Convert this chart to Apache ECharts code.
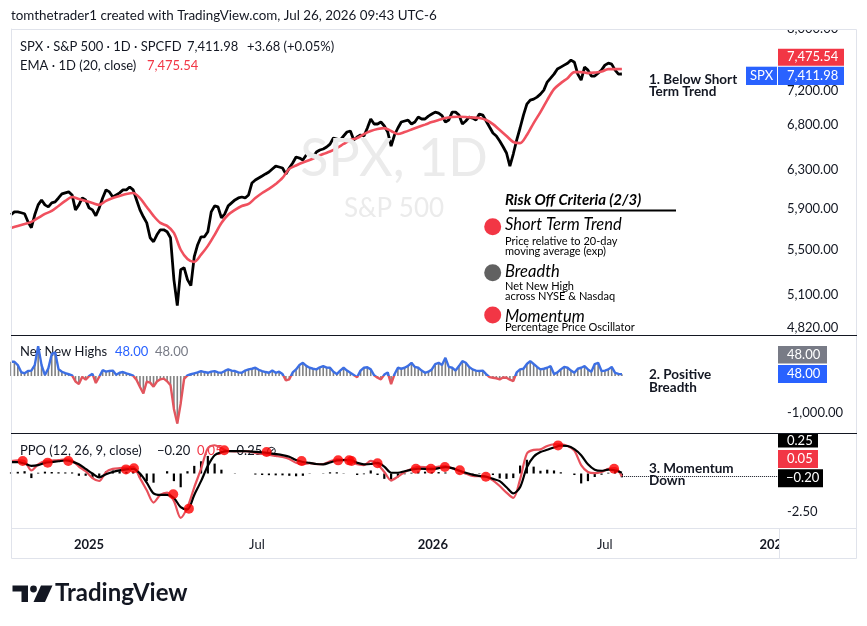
<!DOCTYPE html>
<html><head><meta charset="utf-8">
<script src="https://cdn.jsdelivr.net/npm/echarts@6/dist/echarts.min.js"></script>
<style>html,body{margin:0;padding:0;background:#fff}#c{width:867px;height:626px}</style>
</head><body><div id="c"></div>
<script>
// x unit = weeks since mid Oct 2024. spxClose / netNewHighs sampled every half week, others weekly.
const spxClose = [5837,5866,5866,5857,5847,5768,5710,5837,5936,5986,
  5936,5916,5956,5966,6006,6047,6058,6068,6037,5886,
  5936,6006,5986,5906,5886,5827,5906,6006,6089,6068,
  6016,6037,6058,6089,6089,6119,6089,5986,5886,5817,
  5758,5614,5576,5642,5690,5690,5671,5614,5229,5003,
  5318,5336,5229,5176,5437,5548,5623,5623,5671,5866,
  5926,5916,5807,5847,5926,5956,5986,6006,6016,6006,
  6037,6161,6192,6213,6234,6256,6277,6309,6340,6330,
  6319,6256,6319,6373,6438,6427,6405,6460,6471,6438,
  6493,6515,6526,6548,6581,6649,6638,6626,6672,6717,
  6729,6626,6660,6683,6672,6763,6867,6809,6809,6832,
  6786,6717,6559,6683,6763,6832,6844,6855,6809,6832,
  6890,6867,6867,6901,6925,6948,6936,6907,6832,6855,
  6948,6948,6913,6809,6844,6890,6878,6855,6925,6913,
  6844,6774,6706,6672,6615,6551,6482,6340,6471,6626,
  6763,6913,7043,7091,7103,7127,7163,7212,7311,7360,
  7410,7474,7499,7524,7549,7588,7562,7410,7335,7499,
  7461,7386,7386,7423,7461,7524,7549,7537,7461,7410,
  7411.98];
const ema20 = [5708,5728,5747,5767,5806,5846,5875,5925,5976,6016,
  5996,5976,5955,5936,5976,6005,6027,6047,6057,6005,
  5915,5826,5757,5728,5660,5501,5416,5389,5455,5537,
  5642,5757,5837,5886,5925,5945,6005,6057,6099,6150,
  6213,6310,6346,6378,6405,6438,6471,6498,6537,6582,
  6626,6649,6694,6728,6751,6762,6728,6694,6717,6745,
  6774,6802,6831,6855,6878,6890,6893,6890,6884,6878,
  6855,6808,6740,6672,6604,6592,6683,6820,6948,7091,
  7224,7298,7360,7436,7436,7423,7430,7442,7474,7474,
  7475.54];
const netNewHighs = [392,392,300,110,75,140,150,300,820,300,
  27,210,600,650,190,118,80,50,20,-150,
  -220,-20,-100,0,60,-190,-20,160,120,140,
  150,35,90,110,75,45,10,-110,-300,-475,
  -150,-180,-290,-150,-90,-70,-140,-250,-900,-1300,
  -750,-80,20,50,75,100,137,110,90,120,
  137,100,90,140,183,150,137,100,90,150,
  183,200,228,170,137,110,90,150,90,120,
  55,-120,-90,100,183,300,364,280,228,200,
  183,240,274,230,228,120,55,150,228,150,
  90,30,-30,150,228,240,183,20,-45,-90,
  40,100,-220,50,228,200,228,280,364,250,
  228,150,90,120,183,330,364,300,500,250,
  228,150,274,411,364,250,183,150,137,150,
  55,-30,-45,-60,-90,-40,-45,-100,-137,100,
  183,200,330,411,330,250,183,200,228,270,
  55,100,183,250,228,150,90,200,228,270,
  183,120,330,364,137,150,183,250,90,60,
  48];
const ppoLine = [0.82,0.86,0.8,0.2,0.6,0.82,0.85,0.88,0.92,0.85,
  0.45,0.15,-0.3,-0.49,0.1,0.3,0.35,0.38,0.44,-0.3,
  -1.1,-1.9,-1.4,-1.25,-1.8,-2.9,-2.2,-0.9,0.3,1.65,
  1.85,1.65,1.47,1.45,1.47,1.45,1.35,1.28,1.22,1.15,
  1.08,0.95,0.7,0.6,0.68,0.62,0.62,0.8,0.93,0.9,
  0.88,0.6,0.55,0.82,0.6,0.1,-0.45,-0.2,0.1,0.3,
  0.44,0.42,0.38,0.45,0.49,0.35,0.18,0.0,-0.16,-0.18,
  -0.2,-0.45,-0.82,-1.25,-1.6,-0.38,1.3,1.55,1.58,1.8,
  1.9,1.9,1.8,1.5,0.55,0.1,0.02,0.1,0.3,0.35,
  -0.2];
const ppoSignal = [0.75,0.75,0.65,0.5,0.55,0.7,0.75,0.8,0.85,0.78,
  0.6,0.3,0.0,-0.25,-0.05,0.1,0.2,0.27,0.3,0.0,
  -0.6,-1.3,-1.4,-1.4,-1.6,-2.2,-2.35,-1.4,-0.5,0.5,
  1.2,1.4,1.47,1.47,1.47,1.45,1.42,1.38,1.33,1.27,
  1.2,1.1,0.88,0.75,0.7,0.62,0.6,0.72,0.85,0.88,
  0.88,0.7,0.6,0.62,0.7,0.45,0.05,0.05,0.15,0.25,
  0.31,0.3,0.28,0.35,0.42,0.35,0.2,0.05,-0.08,-0.15,
  -0.21,-0.35,-0.5,-0.9,-1.3,-0.9,0.4,1.1,1.4,1.55,
  1.7,1.82,1.8,1.6,1.2,0.6,0.25,0.18,0.25,0.2,
  0.05];
const ppoHist = [0.07,0.11,0.15,-0.3,0.05,0.12,0.1,0.08,0.07,0.07,
  -0.15,-0.15,-0.3,-0.24,0.15,0.2,0.15,0.11,0.14,-0.3,
  -0.5,-0.6,0.0,0.15,-0.5,-0.9,0.15,0.5,0.8,1.15,
  0.65,0.25,0.0,-0.02,0.0,0.0,-0.07,-0.1,-0.11,-0.12,
  -0.12,-0.15,-0.18,-0.15,-0.02,0.0,0.02,0.08,0.08,0.02,
  0.0,-0.1,-0.05,0.2,-0.1,-0.35,-0.5,-0.25,-0.05,0.05,
  0.13,0.12,0.1,0.1,0.07,0.0,-0.02,-0.05,-0.08,-0.03,
  0.01,-0.1,-0.32,-0.35,-0.3,0.52,0.9,0.45,0.18,0.25,
  0.2,0.08,0.0,-0.1,-0.65,-0.5,-0.23,-0.08,0.05,0.15,
  -0.25];
const crossWeeks = [1.72,5.40,8.44,16.94,18.11,23.9,26.21,31.41,37.66,42.81,48.2,49.82,50.18,54.0,59.65,61.86,63.92,66.13,69.96,80.6,88.85];
const crossValues = [0.82,0.71,0.82,0.27,0.34,-1.36,-2.3,1.52,1.41,0.82,0.86,0.86,0.82,0.67,0.31,0.31,0.42,0.21,-0.21,1.84,0.31];
const xTickWeeks = [11.49,36.23,62.15,87.48,112.5];
const xTickText = ['2025','Jul','2026','Jul','2027'];
const priceTicks = [4820,5100,5500,5900,6300,6800,7200,8000];
const nnhTicks = [-1000];
const ppoTicks = [-2.5];

const FF = 'Lato, "DejaVu Sans", sans-serif';
const TXT = '#131722';
const toXY = (arr, step) => arr.map((v, i) => [i * step, v]);
const fmt2 = v => Number(v).toLocaleString('en-US', {minimumFractionDigits: 2, maximumFractionDigits: 2});

function T(x, y, text, font, fill, z, align) {
  return {type: 'text', x: x, y: y, z: z || 5, silent: true,
    style: {text: text, font: font, fill: fill || TXT, align: align || 'left', verticalAlign: 'middle'}};
}
function R(x, y, w, h, fill, z) {
  return {type: 'rect', z: z || 5, silent: true, shape: {x: x, y: y, width: w, height: h}, style: {fill: fill}};
}
function L(x1, y1, x2, y2, stroke, w, z) {
  return {type: 'line', z: z || 5, silent: true, shape: {x1: x1, y1: y1, x2: x2, y2: y2}, style: {stroke: stroke, lineWidth: w || 1}};
}
function C(cx, cy, r, fill) {
  return {type: 'circle', z: 5, silent: true, shape: {cx: cx, cy: cy, r: r}, style: {fill: fill}};
}

const graphics = [
  T(394, 159, 'SPX, 1D', '52px ' + FF, '#ebebeb', 0, 'center'),
  T(394, 209, 'S&P 500', '26px ' + FF, '#ebebeb', 0, 'center'),
  T(11, 16, 'tomthetrader1 created with TradingView.com, Jul 26, 2026 09:43 UTC-6', '13.4px ' + FF, TXT, 5),
  T(20, 47, 'SPX · S&P 500 · 1D · SPCFD', '13px ' + FF, TXT, 5),
  T(187, 47, '7,411.98', '13px ' + FF, TXT, 5),
  T(247, 47, '+3.68 (+0.05%)', '13px ' + FF, TXT, 5),
  T(20, 66, 'EMA · 1D (20, close)', '13px ' + FF, TXT, 5),
  T(147, 66, '7,475.54', '13px ' + FF, '#f23645', 5),
  T(20, 352, 'Net New Highs', '13px ' + FF, TXT, 1),
  T(115, 352, '48.00', '13px ' + FF, '#2962ff', 1),
  T(155, 352, '48.00', '13px ' + FF, '#787b86', 1),
  T(20, 451, 'PPO (12, 26, 9, close)', '13px ' + FF, TXT, 1),
  T(157, 451, '−0.20', '13px ' + FF, TXT, 1),
  T(197, 451, '0.05', '13px ' + FF, '#f23645', 1),
  T(229, 451, '−0.25', '13px ' + FF, TXT, 1),
  T(266, 451, '⊘', '13px ' + FF, TXT, 1),
  T(649, 80, '1. Below Short', 'bold 13.5px ' + FF, TXT, 5),
  T(649, 92, 'Term Trend', 'bold 13.5px ' + FF, TXT, 5),
  T(649, 375, '2. Positive', 'bold 13.5px ' + FF, TXT, 5),
  T(649, 388, 'Breadth', 'bold 13.5px ' + FF, TXT, 5),
  T(649, 469, '3. Momentum', 'bold 13.5px ' + FF, TXT, 5),
  T(649, 481, 'Down', 'bold 13.5px ' + FF, TXT, 5),
  T(505, 200, 'Risk Off Criteria (2/3)', 'italic bold 15px ' + FF, '#000', 5),
  L(509, 210.5, 676, 210.5, '#000', 2),
  C(492.7, 226.7, 8.5, '#f23645'),
  T(505, 225, 'Short Term Trend', 'italic 16.5px ' + FF, '#000', 5),
  T(505, 241, 'Price relative to 20-day', '11px ' + FF, '#000', 5),
  T(505, 251, 'moving average (exp)', '11px ' + FF, '#000', 5),
  C(492.7, 272.7, 8.5, '#616161'),
  T(505, 271.5, 'Breadth', 'italic 16.5px ' + FF, '#000', 5),
  T(505, 286, 'Net New High', '11px ' + FF, '#000', 5),
  T(505, 296.5, 'across NYSE & Nasdaq', '11px ' + FF, '#000', 5),
  C(492.7, 315, 8.5, '#f23645'),
  T(505, 316.5, 'Momentum', 'italic 16.5px ' + FF, '#000', 5),
  T(505, 327, 'Percentage Price Oscillator', '11px ' + FF, '#000', 5),
  {type: 'rect', z: 90, silent: true, shape: {x: 11.5, y: 29.5, width: 845, height: 529}, style: {fill: 'none', stroke: '#e0e3eb', lineWidth: 1}},
  R(779, 0, 88, 29, '#fff', 95),
  R(780, 529, 76, 29, '#fff', 95),
  R(0, 529, 11, 30, '#fff', 95),
  L(11, 335.5, 857, 335.5, '#131722', 1, 96),
  L(11, 433.5, 857, 433.5, '#131722', 1, 96),
  L(11, 528.5, 857, 528.5, '#e0e3eb', 1, 96),
  L(779.5, 529, 779.5, 559, '#e0e3eb', 1, 96),
  R(778, 48.7, 66, 17, '#f23645', 97), T(787, 57.2, '7,475.54', '13px ' + FF, '#fff', 98),
  R(778, 66.7, 66, 18.3, '#2962ff', 97), T(787, 76, '7,411.98', '13px ' + FF, '#fff', 98),
  R(746, 66.7, 31, 18.3, '#2962ff', 97), T(761.5, 76, 'SPX', '13px ' + FF, '#fff', 98, 'center'),
  R(778, 346, 49, 17.5, '#787b86', 97), T(787, 354.7, '48.00', '13px ' + FF, '#fff', 98),
  R(778, 365, 49, 18, '#2962ff', 97), T(787, 374, '48.00', '13px ' + FF, '#fff', 98),
  R(778, 434, 40, 13.5, '#000', 97), T(787, 441, '0.25', '13px ' + FF, '#fff', 98),
  R(778, 450, 40, 18, '#f23645', 97), T(787, 459, '0.05', '13px ' + FF, '#fff', 98),
  R(778, 469.3, 45, 18, '#000', 97), T(786, 478.3, '−0.20', '13px ' + FF, '#fff', 98),
  {type: 'polygon', z: 5, silent: true, shape: {points: [[12.5, 585.5], [28, 585.5], [28, 602], [21.5, 602], [21.5, 591.5], [12.5, 591.5]]}, style: {fill: TXT}},
  C(33.5, 589, 3.4, TXT),
  {type: 'polygon', z: 5, silent: true, shape: {points: [[41, 585.5], [52.5, 585.5], [45, 602], [33.5, 602]]}, style: {fill: TXT}},
  T(55, 593, 'TradingView', 'bold 24px ' + FF, TXT, 5)
];

function xAxisCfg(k) {
  const base = {type: 'value', gridIndex: k, min: 0, max: 113,
    axisLine: {show: false}, axisTick: {show: false}, splitLine: {show: false}};
  if (k < 2) { base.axisLabel = {show: false}; return base; }
  base.axisLabel = {show: true, customValues: xTickWeeks, margin: 11, hideOverlap: false,
    formatter: function (v) {
      let b = 0;
      for (let i = 1; i < xTickWeeks.length; i++) if (Math.abs(xTickWeeks[i] - v) < Math.abs(xTickWeeks[b] - v)) b = i;
      return (xTickText[b] === 'Jul' ? '{m|' : '{y|') + xTickText[b] + '}';
    },
    rich: {y: {fontFamily: FF, fontSize: 13, fontWeight: 'bold', color: TXT}, m: {fontFamily: FF, fontSize: 13, color: TXT}}};
  return base;
}
function yAxisCfg(k, type, min, max, ticks) {
  const a = {type: type, gridIndex: k, position: 'right', min: min, max: max,
    axisLine: {show: true, lineStyle: {color: '#e0e3eb'}}, axisTick: {show: false}, splitLine: {show: false},
    axisLabel: {customValues: ticks, margin: 9, color: TXT, fontFamily: FF, fontSize: 13, formatter: fmt2}};
  if (type === 'log') a.logBase = 10;
  return a;
}

const option = {
  animation: false,
  backgroundColor: '#fff',
  grid: [
    {left: 11, right: 89, top: 29, height: 306, outerBoundsMode: 'none'},
    {left: 11, right: 89, top: 335, height: 98, outerBoundsMode: 'none'},
    {left: 11, right: 89, top: 433, height: 94, outerBoundsMode: 'none'}
  ],
  xAxis: [xAxisCfg(0), xAxisCfg(1), xAxisCfg(2)],
  yAxis: [
    yAxisCfg(0, 'log', 4760, 8000, priceTicks),
    yAxisCfg(1, 'value', -1560, 1125, nnhTicks),
    yAxisCfg(2, 'value', -3.5, 2.65, ppoTicks)
  ],
  graphic: {elements: graphics},
  series: [
    {name: 'SPX', type: 'line', xAxisIndex: 0, yAxisIndex: 0, data: toXY(spxClose, 0.5), showSymbol: false,
      lineStyle: {color: '#000', width: 2.8}, z: 2},
    {name: 'EMA 20', type: 'line', xAxisIndex: 0, yAxisIndex: 0, data: toXY(ema20, 1), showSymbol: false, smooth: 0.3,
      lineStyle: {color: '#f0505e', width: 2.6}, z: 3},
    {name: 'NNH hist', type: 'bar', xAxisIndex: 1, yAxisIndex: 1, data: toXY(netNewHighs, 0.5), barWidth: 1.6,
      itemStyle: {color: '#808080'}, z: 2},
    {name: 'Net New Highs', type: 'line', xAxisIndex: 1, yAxisIndex: 1, data: toXY(netNewHighs, 0.5), showSymbol: false,
      lineStyle: {width: 2.4, color: '#3d6fe3'}, z: 3},
    {name: 'PPO hist', type: 'bar', xAxisIndex: 2, yAxisIndex: 2, data: toXY(ppoHist, 1), barWidth: 2.2,
      itemStyle: {color: '#000'}, z: 2},
    {name: 'PPO', type: 'line', xAxisIndex: 2, yAxisIndex: 2, data: toXY(ppoLine, 1), showSymbol: false, smooth: 0.3,
      lineStyle: {color: '#e8505b', width: 2.2}, z: 3,
      markLine: {silent: true, symbol: ['none', 'none'], label: {show: false},
        lineStyle: {type: 'dotted', color: '#131722', width: 1},
        data: [[{coord: [90, ppoLine[90]]}, {coord: [113, ppoLine[90]]}]]}},
    {name: 'Signal', type: 'line', xAxisIndex: 2, yAxisIndex: 2, data: toXY(ppoSignal, 1), showSymbol: false, smooth: 0.3,
      lineStyle: {color: '#000', width: 2.2}, z: 4},
    {name: 'Cross', type: 'scatter', xAxisIndex: 2, yAxisIndex: 2, data: crossWeeks.map((w, i) => [w, crossValues[i]]),
      symbolSize: 10, itemStyle: {color: '#ff0000'}, z: 5}
  ]
};
const chart = echarts.init(document.getElementById('c'), null, {renderer: 'canvas'});
chart.setOption(option);
// colour the Net New Highs line blue above zero, red below, using the axis scale
const gTop = 335, gBot = 433;
const yZero = chart.convertToPixel({yAxisIndex: 1}, 0);
const f = Math.min(1, Math.max(0, (yZero - gTop) / (gBot - gTop)));
chart.setOption({series: [{}, {}, {}, {lineStyle: {color: {type: 'linear', x: 0, y: gTop, x2: 0, y2: gBot, global: true,
  colorStops: [{offset: 0, color: '#3d6fe3'}, {offset: f, color: '#3d6fe3'}, {offset: f, color: '#e2555d'}, {offset: 1, color: '#e2555d'}]}}}]});
</script></body></html>
